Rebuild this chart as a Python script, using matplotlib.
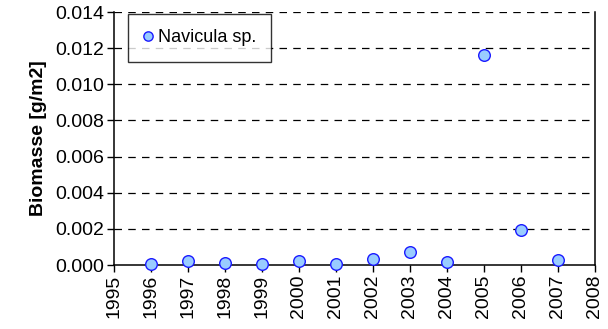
import matplotlib

matplotlib.use("Agg")
import matplotlib.pyplot as plt  # noqa: E402

plt.rcParams["font.family"] = ["Liberation Sans", "DejaVu Sans"]

years = [1996, 1997, 1998, 1999, 2000, 2001, 2002, 2003, 2004, 2005, 2006, 2007]
biomass = [0.00005, 0.0002, 0.0001, 0.00007, 0.0002, 0.00005,
           0.00035, 0.00074, 0.00015, 0.0116, 0.00196, 0.00028]
series_label = "Navicula sp."
x_ticks = list(range(1995, 2009))
y_ticks = [0.000, 0.002, 0.004, 0.006, 0.008, 0.010, 0.012, 0.014]

fig = plt.figure(figsize=(6.08, 3.29), dpi=100)
ax = fig.add_axes([0.1875, 0.1945, 0.791, 0.769])

ax.scatter(years, biomass, s=70, facecolor="#99ccff", edgecolor="#1a1aff",
           linewidths=1.0, zorder=3, label=series_label, clip_on=False)

ax.set_xlim(1995, 2008)
ax.set_ylim(0, 0.014)
ax.set_xticks(x_ticks)
ax.set_xticklabels([str(y) for y in x_ticks], rotation=90)
ax.set_yticks(y_ticks)
ax.set_yticklabels([f"{v:.3f}" for v in y_ticks])
ax.tick_params(axis="both", direction="out", length=5, width=1, labelsize=14,
               pad=2)

for v in y_ticks[1:]:
    ax.axhline(v, color="black", lw=0.9, dashes=(6, 5), zorder=1)

ax.spines["top"].set_visible(False)
for side in ("left", "right", "bottom"):
    ax.spines[side].set_linewidth(1.1)
    ax.spines[side].set_color("black")

ax.set_ylabel("Biomasse [g/m2]", fontsize=14, fontweight="bold", labelpad=6)

leg = ax.legend(loc="upper left", bbox_to_anchor=(0.029, 0.992), fontsize=13,
                frameon=True, fancybox=False, handletextpad=0.3,
                borderpad=0.85, borderaxespad=0, handlelength=0.5,
                markerscale=0.8, scatteryoffsets=[0.5])
leg.get_frame().set_edgecolor("black")
leg.get_frame().set_linewidth(1.0)

fig.savefig("out.png", dpi=100)
